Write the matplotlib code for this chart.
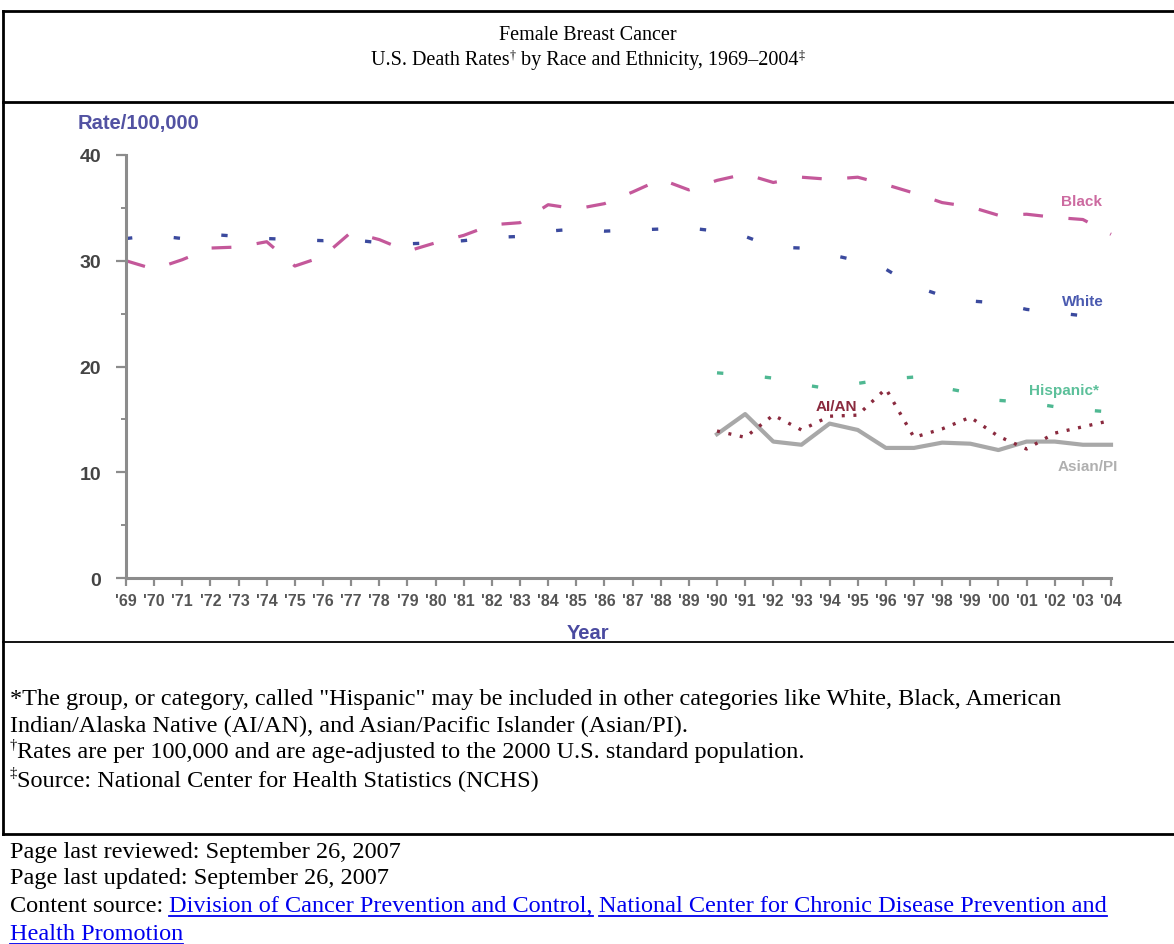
import matplotlib
matplotlib.use('Agg')
import matplotlib.pyplot as plt
from matplotlib.lines import Line2D
from matplotlib.transforms import IdentityTransform

# data (rate per 100,000)
years = list(range(1969, 2005))
black = [30.0, 29.2, 30.1, 31.2, 31.3, 31.8, 29.5, 30.4, 32.7, 32.0,
         30.9, 31.7, 32.4, 33.4, 33.6, 35.3, 34.9, 35.4, 36.5, 37.7,
         36.7, 37.6, 38.2, 37.4, 37.9, 37.7, 37.9, 37.2, 36.4, 35.5,
         35.1, 34.3, 34.4, 34.1, 33.9, 32.5]
white = [32.1, 32.4, 32.1, 32.5, 32.3, 32.1, 32.0, 31.9, 32.0, 31.7,
         31.6, 31.7, 31.9, 32.2, 32.3, 32.8, 33.0, 32.8, 32.9, 33.0,
         33.1, 32.8, 32.3, 31.3, 31.2, 30.6, 30.0, 29.2, 27.6, 26.7,
         26.2, 26.0, 25.4, 25.1, 24.8, 24.2]
years_90 = list(range(1990, 2005))
hispanic = [19.4, 19.2, 18.9, 18.3, 17.9, 18.4, 18.8, 19.0, 18.0, 17.5,
            16.8, 16.6, 16.2, 15.9, 15.7]
aian = [13.9, 13.3, 15.4, 14.0, 15.3, 15.4, 17.9, 13.3, 14.1, 15.2,
        13.4, 12.2, 13.7, 14.3, 14.9]
asian = [13.6, 15.5, 12.9, 12.6, 14.6, 14.0, 12.3, 12.3, 12.8, 12.7,
         12.1, 12.9, 12.9, 12.6, 12.6]
year_labels = ["'%02d" % (y % 100) for y in years]

W, H = 1174, 945
fig = plt.figure(figsize=(W / 100, H / 100), dpi=100)
fig.patch.set_facecolor('white')
ident = IdentityTransform()
renderer = fig.canvas.get_renderer()

serif = ['Liberation Serif', 'DejaVu Serif']
sans = ['Liberation Sans', 'DejaVu Sans']
fs_title = 14.5
fs_body = 17.5


def hline(y, x0=3, x1=W, lw=2.0, c='black'):
    fig.add_artist(Line2D([x0, x1], [H - y, H - y], transform=ident,
                          color=c, lw=lw))


def txt(x, y, s, **kw):
    kw.setdefault('family', serif)
    kw.setdefault('fontsize', fs_body)
    kw.setdefault('va', 'center')
    return fig.text(x, H - y, s, transform=ident, **kw)


def width(t):
    return t.get_window_extent(renderer).width


def run_line(x, y, parts, fs=fs_body, center=False):
    # parts: (text, superscript?, color, underline?)
    objs = []
    cx = x
    for s, sup, col, und in parts:
        if sup:
            t = txt(cx, y - fs * 0.4, s, fontsize=fs * 0.6, color=col)
        else:
            t = txt(cx, y, s, fontsize=fs, color=col)
        w = width(t)
        objs.append((t, w, und, col))
        cx += w
    if center:
        shift = -(cx - x) / 2
        for t, w, und, col in objs:
            px, py = t.get_position()
            t.set_position((px + shift, py))
    for t, w, und, col in objs:
        if und:
            px, py = t.get_position()
            fig.add_artist(Line2D([px, px + w], [py - 10, py - 10],
                                  transform=ident, color=col, lw=1.3))


# page frame
hline(12)
fig.add_artist(Line2D([3, 3], [H - 12, H - 835], transform=ident,
                      color='black', lw=2.0))
hline(103)
hline(643, lw=1.3)
hline(835)

# title
txt(588, 36, 'Female Breast Cancer', ha='center', fontsize=fs_title)
run_line(588, 61, [('U.S. Death Rates', False, 'black', False),
                   ('\u2020', True, 'black', False),
                   (' by Race and Ethnicity, 1969\u20132004', False, 'black', False),
                   ('\u2021', True, 'black', False)],
         fs=fs_title, center=True)

# chart
ax = fig.add_axes([126 / W, 1 - 579 / H, (1111 - 126) / W, (579 - 156) / H])
ax.set_xlim(1969, 2004)
ax.set_ylim(0, 40)

ax.plot(years, black, color='#c4589a', lw=2.3, dashes=(6.2, 8.0),
        clip_on=False, dash_capstyle='butt')
ax.plot(years, white, color='#3b4a9e', lw=2.4, dashes=(1.9, 12.5),
        clip_on=False, dash_capstyle='butt')
ax.plot(years_90, hispanic, color='#4fb892', lw=2.4, dashes=(1.9, 12.5),
        clip_on=False, dash_capstyle='butt')
ax.plot(years_90, asian, color='#a8a8a8', lw=3.0, clip_on=False)
ax.plot(years_90, aian, color='#8a2a3e', lw=2.4, dashes=(0.9, 2.6),
        clip_on=False, dash_capstyle='butt')

lab = dict(fontsize=11, fontweight='bold', family=sans, va='center',
           transform=ident)
fig.text(1102, H - 202, 'Black', color='#cc6aa0', ha='right', **lab)
fig.text(1104, H - 302, 'White', color='#4a5ab0', ha='right', **lab)
fig.text(1099, H - 391, 'Hispanic*', color='#5cc09a', ha='right', **lab)
fig.text(836, H - 407, 'AI/AN', color='#8a2a3e', ha='center', **lab)
fig.text(1118, H - 467, 'Asian/PI', color='#b0b0b0', ha='right', **lab)

for side in ['top', 'right']:
    ax.spines[side].set_visible(False)
for side in ['left', 'bottom']:
    ax.spines[side].set_color('#8c8c8c')
    ax.spines[side].set_linewidth(2.2)
ax.set_xticks(years)
ax.set_xticklabels(year_labels)
ax.set_yticks([0, 10, 20, 30, 40])
ax.set_yticks([5, 15, 25, 35], minor=True)
ax.tick_params(axis='x', direction='out', length=6, width=1.6,
               color='#8c8c8c', labelsize=11.5, labelcolor='#555555', pad=5)
ax.tick_params(axis='y', which='major', direction='out', length=7, width=1.6,
               color='#8c8c8c', labelsize=14, labelcolor='#444444', pad=11)
ax.tick_params(axis='y', which='minor', direction='out', length=3.5,
               width=1.4, color='#8c8c8c')
for t in ax.get_xticklabels() + ax.get_yticklabels():
    t.set_fontweight('bold')
    t.set_family(sans)

fig.text(78, H - 124, 'Rate/100,000', color='#5252a2', fontsize=14.5,
         fontweight='bold', family=sans, va='center', transform=ident)
fig.text(588, H - 634, 'Year', color='#4a4aa0', fontsize=14.5,
         fontweight='bold', family=sans, va='center', ha='center',
         transform=ident)

# footnotes
txt(10, 700, '*The group, or category, called "Hispanic" may be included in '
    'other categories like White, Black, American')
txt(10, 726, 'Indian/Alaska Native (AI/AN), and Asian/Pacific Islander (Asian/PI).')
run_line(10, 753, [('\u2020', True, 'black', False),
                   ('Rates are per 100,000 and are age-adjusted to the 2000 '
                    'U.S. standard population.', False, 'black', False)])
run_line(10, 781, [('\u2021', True, 'black', False),
                   ('Source: National Center for Health Statistics (NCHS)',
                    False, 'black', False)])

# page info
link = '#0000ee'
txt(10, 853, 'Page last reviewed: September 26, 2007')
txt(10, 879, 'Page last updated: September 26, 2007')
run_line(10, 907, [('Content source: ', False, 'black', False),
                   ('Division of Cancer Prevention and Control,', False, link, True),
                   (' ', False, 'black', False),
                   ('National Center for Chronic Disease Prevention and',
                    False, link, True)])
run_line(10, 935, [('Health Promotion', False, link, True)])

fig.savefig('out.png', dpi=100)
